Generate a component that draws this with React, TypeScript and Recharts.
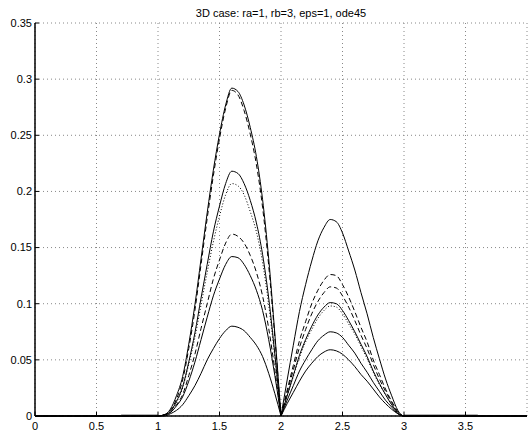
import React from 'react';
import { LineChart, Line, XAxis, YAxis, CartesianGrid } from 'recharts';

const xs = [
  0, 0.7, 1, 1.05, 1.1, 1.15, 1.2, 1.25, 1.3, 1.35, 1.4, 1.45, 1.5, 1.55, 1.6, 1.65, 1.7, 1.75, 1.8, 1.85, 1.9,
  1.95, 2, 2.05, 2.1, 2.15, 2.2, 2.25, 2.3, 2.35, 2.4, 2.45, 2.5, 2.55, 2.6, 2.65, 2.7, 2.75, 2.8, 2.85, 2.9,
  2.95, 3, 3.6, 4,
];

// solid curves
const solidA = [
  0, 0, 0, 0.001, 0.006, 0.018, 0.035, 0.064, 0.099, 0.14, 0.181, 0.219, 0.251, 0.277, 0.292, 0.289, 0.277,
  0.257, 0.231, 0.193, 0.14, 0.073, 0, 0.032, 0.063, 0.093, 0.117, 0.138, 0.156, 0.168, 0.175, 0.173, 0.163,
  0.147, 0.13, 0.11, 0.091, 0.07, 0.051, 0.033, 0.018, 0.005, 0, 0, 0,
];
const solidB = [
  0, 0, 0, 0.001, 0.004, 0.013, 0.026, 0.048, 0.074, 0.105, 0.135, 0.164, 0.187, 0.207, 0.218, 0.216, 0.207,
  0.192, 0.172, 0.144, 0.105, 0.055, 0, 0.018, 0.036, 0.054, 0.068, 0.08, 0.09, 0.097, 0.101, 0.1, 0.094,
  0.085, 0.075, 0.064, 0.053, 0.04, 0.029, 0.019, 0.01, 0.003, 0, 0, 0,
];
const solidC = [
  0, 0, 0, 0.001, 0.003, 0.009, 0.017, 0.031, 0.048, 0.068, 0.088, 0.107, 0.122, 0.135, 0.142, 0.141, 0.135,
  0.125, 0.112, 0.094, 0.068, 0.036, 0, 0.014, 0.027, 0.04, 0.05, 0.059, 0.067, 0.072, 0.075, 0.074, 0.07,
  0.063, 0.056, 0.047, 0.039, 0.03, 0.022, 0.014, 0.008, 0.002, 0, 0, 0,
];
const solidD = [
  0, 0, 0, 0, 0.002, 0.005, 0.01, 0.018, 0.027, 0.038, 0.05, 0.06, 0.069, 0.076, 0.08, 0.079, 0.076, 0.07,
  0.063, 0.053, 0.038, 0.02, 0, 0.011, 0.021, 0.031, 0.04, 0.047, 0.053, 0.057, 0.059, 0.058, 0.055, 0.05,
  0.044, 0.037, 0.031, 0.024, 0.017, 0.011, 0.006, 0.002, 0, 0, 0,
];

// dashed curves
const dashedE = [
  0, 0, 0, 0.001, 0.005, 0.015, 0.032, 0.06, 0.094, 0.135, 0.176, 0.214, 0.247, 0.274, 0.29, 0.286, 0.272,
  0.251, 0.224, 0.186, 0.134, 0.07, 0, 0.023, 0.045, 0.067, 0.084, 0.1, 0.112, 0.121, 0.126, 0.125, 0.117,
  0.106, 0.093, 0.079, 0.066, 0.05, 0.037, 0.024, 0.013, 0.004, 0, 0, 0,
];
const dashedF = [
  0, 0, 0, 0.001, 0.003, 0.01, 0.019, 0.036, 0.055, 0.078, 0.1, 0.122, 0.139, 0.154, 0.162, 0.16, 0.154,
  0.143, 0.128, 0.107, 0.078, 0.041, 0, 0.021, 0.041, 0.061, 0.077, 0.091, 0.102, 0.11, 0.115, 0.114, 0.107,
  0.097, 0.085, 0.072, 0.06, 0.046, 0.033, 0.022, 0.012, 0.003, 0, 0, 0,
];

// dotted curve
const dottedG = [
  0, 0, 0, 0.001, 0.004, 0.012, 0.025, 0.046, 0.07, 0.099, 0.128, 0.155, 0.178, 0.197, 0.207, 0.205, 0.197,
  0.182, 0.164, 0.137, 0.099, 0.052, 0, 0.018, 0.035, 0.052, 0.066, 0.077, 0.087, 0.094, 0.098, 0.097, 0.091,
  0.082, 0.073, 0.062, 0.051, 0.039, 0.028, 0.019, 0.01, 0.003, 0, 0, 0,
];

// faint near-zero trace outside the humps
const tail = [
  null, 0.0012, 0.0012, null, null, null, null, null, null, null, null, null, null, null, null, null, null,
  null, null, null, null, null, null, null, null, null, null, null, null, null, null, null, null, null, null,
  null, null, null, null, null, null, null, 0.0012, 0.0012, null,
];

const xTicks = [0, 0.5, 1, 1.5, 2, 2.5, 3, 3.5];
const yTicks = [0, 0.05, 0.1, 0.15, 0.2, 0.25, 0.3, 0.35];

const series = [
  { key: 'a', values: solidA, dash: undefined },
  { key: 'b', values: solidB, dash: undefined },
  { key: 'c', values: solidC, dash: undefined },
  { key: 'd', values: solidD, dash: undefined },
  { key: 'e', values: dashedE, dash: '5 3' },
  { key: 'f', values: dashedF, dash: '5 3' },
  { key: 'g', values: dottedG, dash: '1 2' },
];

// each curve is split at x=2 so the cusp stays sharp while the humps stay smooth
const data = xs.map((x, i) => {
  const row: Record<string, number | null> = { x, t: tail[i] };
  series.forEach((s) => {
    row[`${s.key}_l`] = x <= 2 ? s.values[i] : null;
    row[`${s.key}_r`] = x >= 2 ? s.values[i] : null;
  });
  return row;
});

const font = '"Liberation Sans", Arial, Helvetica, sans-serif';
const tickStyle = { fontSize: 11, fill: '#000', fontFamily: font };

const App: React.FC = () => {
  return (
    <div style={{ position: 'absolute', left: 0, top: 0, width: 528, height: 433, background: '#fff' }}>
      <div
        style={{
          position: 'absolute',
          top: 8,
          left: 281,
          transform: 'translateX(-50%)',
          fontFamily: font,
          fontSize: 11,
          lineHeight: '11px',
          whiteSpace: 'nowrap',
          color: '#000',
        }}
      >
        3D case: ra=1, rb=3, eps=1, ode45
      </div>
      <LineChart width={528} height={433} data={data} margin={{ top: 23, right: 1, bottom: 0, left: 0 }}>
        <CartesianGrid stroke="#888" strokeDasharray="1 3" />
        <XAxis
          dataKey="x"
          type="number"
          domain={[0, 4]}
          ticks={xTicks}
          height={17}
          tickSize={-4}
          tickMargin={10}
          tick={tickStyle}
          axisLine={{ stroke: '#000', strokeWidth: 1.5 }}
          tickLine={{ stroke: '#000' }}
          interval={0}
        />
        <YAxis
          type="number"
          domain={[0, 0.35]}
          ticks={yTicks}
          width={35}
          tickSize={-4}
          tickMargin={7}
          tick={tickStyle}
          axisLine={{ stroke: '#000', strokeWidth: 1.5 }}
          tickLine={{ stroke: '#000' }}
          interval={0}
        />
        <Line type="linear" dataKey="t" stroke="#aaa" strokeWidth={1} dot={false} isAnimationActive={false} />
        {series.flatMap((s) =>
          ['l', 'r'].map((side) => (
            <Line
              key={`${s.key}_${side}`}
              type="monotone"
              dataKey={`${s.key}_${side}`}
              stroke="#000"
              strokeWidth={1}
              strokeDasharray={s.dash}
              dot={false}
              isAnimationActive={false}
            />
          ))
        )}
      </LineChart>
    </div>
  );
};

export default App;
